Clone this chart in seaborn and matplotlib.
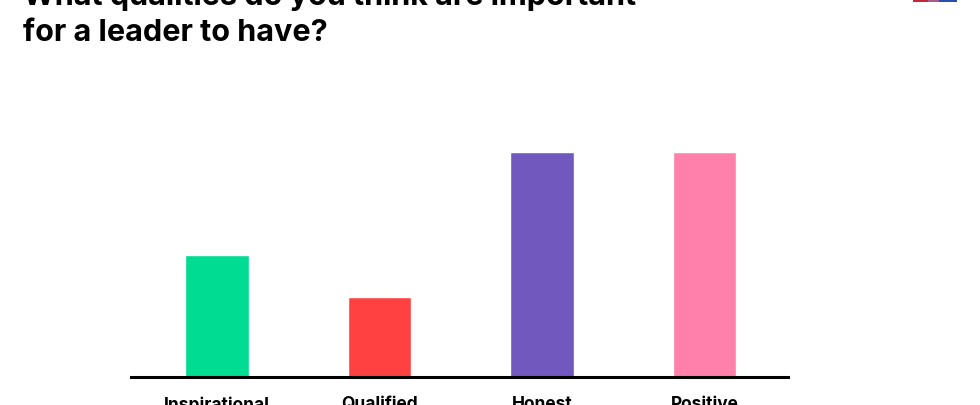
import matplotlib
matplotlib.use('Agg')
import matplotlib.pyplot as plt
from matplotlib.patches import Rectangle
import seaborn as sns

# values, tallest bar taken as 100
qualities = ['Inspirational', 'Qualified', 'Honest', 'Positive']
shares = [54.5, 35.5, 100, 100]
bar_colors = ['#00DC91', '#FF4141', '#7058BE', '#FF80AB']
title_lines = ['What qualities do you think are important', 'for a leader to have?']

W, H = 980, 405

sns.set_theme(style='white')
plt.rcParams['font.family'] = ['Inter', 'DejaVu Sans']

fig = plt.figure(figsize=(W / 100, H / 100), dpi=100)
ax = fig.add_axes([131 / W, 1 - 377 / H, (788 - 131) / W, (377 - 152.5) / H])

sns.barplot(x=qualities, y=shares, hue=qualities, palette=bar_colors, legend=False,
            width=0.39, saturation=1, ax=ax)

ax.set_xlim(-0.529, 3.514)
ax.set_ylim(0, 100)
ax.set_yticks([])
ax.set_ylabel('')
sns.despine(ax=ax, left=True)
ax.spines['bottom'].set_linewidth(2.2)
ax.spines['bottom'].set_color('black')
ax.tick_params(axis='x', length=0, pad=14, labelsize=12.5, labelcolor='black')
for lab in ax.get_xticklabels():
    lab.set_fontweight('bold')

# title runs off the top of the frame
fig.text(23 / W, 1 - 5 / H, title_lines[0], fontsize=22, fontweight='bold', color='black', va='baseline')
fig.text(23 / W, 1 - 41 / H, title_lines[1], fontsize=22, fontweight='bold', color='black', va='baseline')

# sliver of the flag at the top right corner
for x0, x1, c in [(913, 928, '#C0283C'), (928, 939, '#A85A8C'), (939, 957, '#2850B4')]:
    fig.add_artist(Rectangle((x0 / W, 1 - 1.5 / H), (x1 - x0) / W, 1.5 / H, color=c, lw=0,
                             transform=fig.transFigure))

fig.savefig('out.png', dpi=100)
